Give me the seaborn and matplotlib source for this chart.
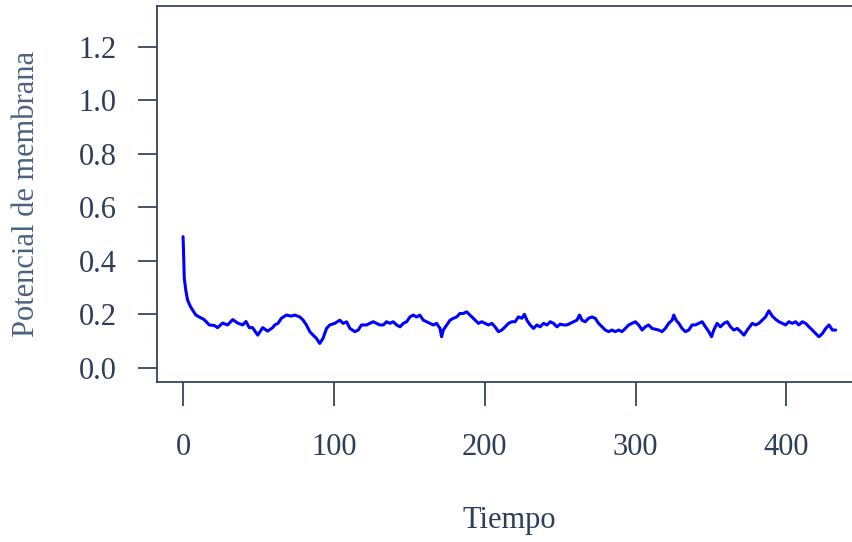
import matplotlib
matplotlib.use("Agg")
import matplotlib.pyplot as plt
import seaborn as sns
import pandas as pd

# time values (Tiempo)
tiempo = [
    0, 0.3, 0.8, 1.9, 3.0, 4.8, 6.3, 8.5, 10.7, 14.0, 17.4, 20.7, 22.9, 26.2, 29.5,
    32.9, 36.2, 39.5, 41.7, 43.9, 46.1, 49.5, 52.8, 56.1, 59.4,
    60.8, 62.9, 65.2, 68.5, 71.8, 74.0, 77.4, 79.6, 81.8, 84.0, 86.2, 88.4, 90.6,
    92.8, 95.1, 97.3, 100.6, 103.9, 106.1, 108.4, 110.6, 113.9, 116.1, 118.3, 121.6,
    123.8, 126.0, 128.3, 130.5, 132.7, 134.9, 137.1, 139.3, 141.6, 143.8, 146.0,
    148.2, 150.4, 152.6, 154.8, 157.0, 159.2, 161.5, 163.7, 165.9, 168.1, 170.3,
    171.4, 172.5, 174.8, 177.0, 179.2, 181.4, 183.6, 185.8,
    188.0, 190.2, 191.4, 193.6, 195.8, 198.0, 200.2, 202.4, 204.7, 206.8, 209.0,
    211.3, 213.5, 215.7, 217.9, 220.1, 222.3, 224.6, 226.3, 227.9, 230.1, 232.3,
    234.5, 236.7, 238.9, 241.2, 243.4, 245.6, 247.8,
    250.0, 252.2, 254.5, 256.6, 258.8, 261.1, 262.8, 264.4, 266.6, 268.8, 271.0,
    273.2, 275.4, 277.7, 279.9, 282.1, 284.3, 286.5, 288.7, 291.0, 293.2, 295.4,
    297.6, 299.8, 302.0, 304.3, 306.4, 308.6, 310.9,
    313.1, 315.3, 317.5, 319.7, 321.9, 324.2, 325.3, 326.8, 328.6, 330.8, 333.0,
    335.2, 337.4, 339.6, 341.8, 344.1, 346.3, 348.5, 350.3, 351.8, 354.0, 356.2,
    358.5, 360.7, 362.9, 365.1, 367.3, 369.6, 371.8, 374.0, 377.3,
    379.5, 381.7, 383.9, 386.1, 388.3, 390.6, 392.8, 395.0, 397.2, 399.4, 401.6,
    403.9, 406.0, 408.2, 410.5, 412.7, 414.9, 417.1, 419.3, 421.5, 423.8, 426.0,
    428.2, 430.4, 432.6,
]

# membrane potential values (Potencial de membrana)
potencial = [
    0.49, 0.44, 0.335, 0.287, 0.253, 0.23, 0.216, 0.197, 0.19, 0.18, 0.16, 0.158,
    0.15, 0.167, 0.16, 0.18, 0.167, 0.16, 0.173, 0.15, 0.15, 0.122, 0.15, 0.137, 0.15,
    0.16, 0.166, 0.185, 0.197, 0.193, 0.197, 0.19, 0.178, 0.16, 0.135, 0.122, 0.11,
    0.091, 0.11, 0.147, 0.16, 0.166, 0.178, 0.166, 0.172, 0.147, 0.135, 0.141, 0.16,
    0.16,
    0.166, 0.172, 0.166, 0.16, 0.16, 0.172, 0.166, 0.172, 0.16, 0.153, 0.166, 0.172,
    0.19, 0.197, 0.19, 0.197, 0.178, 0.172, 0.166, 0.16, 0.166, 0.147, 0.116, 0.141,
    0.16, 0.178, 0.185, 0.19, 0.203, 0.203,
    0.209, 0.197, 0.19, 0.178, 0.166, 0.172, 0.166, 0.16, 0.166, 0.153, 0.135, 0.141,
    0.153, 0.166, 0.172, 0.172, 0.19, 0.185, 0.2, 0.178, 0.16, 0.147, 0.16, 0.153,
    0.166, 0.16, 0.172, 0.166, 0.153,
    0.163, 0.16, 0.16, 0.166, 0.172, 0.178, 0.197, 0.178, 0.172, 0.185, 0.19, 0.185,
    0.166, 0.153, 0.141, 0.135, 0.141, 0.135, 0.141, 0.135, 0.147, 0.16, 0.166,
    0.172, 0.16, 0.141, 0.153, 0.16, 0.147,
    0.144, 0.141, 0.135, 0.147, 0.166, 0.178, 0.197, 0.178, 0.166, 0.147, 0.135,
    0.141, 0.16, 0.16, 0.166, 0.172, 0.153, 0.135, 0.116, 0.141, 0.166, 0.153, 0.166,
    0.172, 0.153, 0.141, 0.147, 0.135, 0.122, 0.141, 0.166,
    0.16, 0.166, 0.178, 0.19, 0.213, 0.193, 0.181, 0.172, 0.166, 0.16, 0.172, 0.166,
    0.172, 0.16, 0.172, 0.166, 0.153, 0.141, 0.128, 0.116, 0.128, 0.147, 0.16, 0.141,
    0.141,
]

x_ticks = [0, 100, 200, 300, 400]
y_ticks = [0.0, 0.2, 0.4, 0.6, 0.8, 1.0, 1.2]

df = pd.DataFrame({"Tiempo": tiempo, "Potencial": potencial})

sns.set_style("white")
plt.rcParams['font.family'] = ['Liberation Serif', 'DejaVu Serif']

text_col = '#2f3d5a'
axis_col = '#34465f'

fig = plt.figure(figsize=(8.53, 5.42), dpi=100)
ax = fig.add_axes([0.184, 0.2958, 0.827, 0.693])

sns.lineplot(data=df, x="Tiempo", y="Potencial", ax=ax, color='#0000ff',
             linewidth=2.2, sort=False)

ax.set_xlim(-17.3, 450.3)
ax.set_ylim(-0.052, 1.352)
ax.set_xticks(x_ticks)
ax.set_xticklabels([str(v) for v in x_ticks])
ax.set_yticks(y_ticks)
ax.set_yticklabels([f"{v:.1f}" for v in y_ticks])

for sp in ax.spines.values():
    sp.set_visible(True)
    sp.set_color(axis_col)
    sp.set_linewidth(1.3)
# box runs past the right edge of the picture
ax.spines['right'].set_visible(False)

ax.tick_params(axis='x', direction='out', length=17, width=1.3, color=axis_col,
               pad=20, labelsize=22, labelcolor=text_col, bottom=True)
ax.tick_params(axis='y', direction='out', length=14, width=1.3, color=axis_col,
               pad=15, labelsize=22, labelcolor=text_col, left=True)

ax.set_xlabel("Tiempo", fontsize=22, color=text_col)
ax.xaxis.set_label_coords(0.5, -0.33)
ax.set_ylabel("Potencial de membrana", fontsize=22, color='#4d6080')
ax.yaxis.set_label_coords(-0.165, 0.5)
ax.grid(False)

fig.savefig("out.png", dpi=100)
